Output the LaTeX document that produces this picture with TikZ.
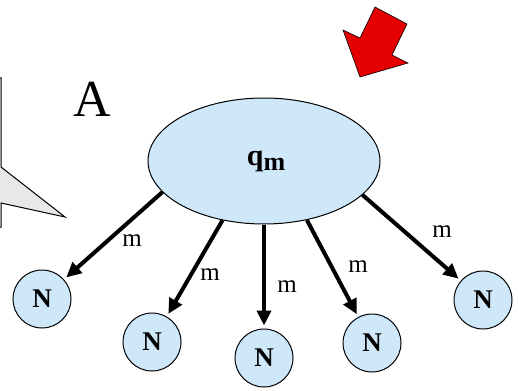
\documentclass[tikz,border=0pt]{standalone}
\usepackage{fontspec}
\setmainfont{Liberation Serif}
\usetikzlibrary{shapes.geometric,arrows.meta}
\definecolor{nodeblue}{RGB}{206,232,250}
\definecolor{callgrey}{RGB}{232,232,232}
\definecolor{arrowred}{RGB}{228,0,0}
\begin{document}
\begin{tikzpicture}[x=1pt,y=-1pt,
  nnode/.style={circle,draw=black,line width=1pt,fill=nodeblue,minimum size=58pt,inner sep=0pt,font=\fontsize{27}{27}\selectfont\bfseries},
  link/.style={line width=4pt,-{Triangle[length=15pt,width=14pt]},shorten >=3pt},
  mlabel/.style={font=\fontsize{25}{25}\selectfont,inner sep=0pt}]
\useasboundingbox (0,0) rectangle (518,390);
\begin{scope}
\clip (0,0) rectangle (518,390);
% callout
\draw[fill=callgrey,line width=1pt] (-5,78) -- (1,78) -- (1,167) -- (65,217) -- (1,203) -- (1,227) -- (-5,227);
\end{scope}
% red arrow
\draw[fill=arrowred,line width=0.6pt,line join=miter] (343,30) -- (360,38) -- (375,7) -- (407,24) -- (392,55) -- (408,63) -- (360,77) -- cycle;
% label A
\node[font=\fontsize{52}{52}\selectfont,inner sep=0pt] (A) at (92,99) {A};
% main ellipse
\node[ellipse,draw=black,line width=1pt,fill=nodeblue,minimum width=232pt,minimum height=126pt,inner sep=0pt] (q) at (264,161) {};
\node[inner sep=0pt,font=\fontsize{30}{30}\selectfont\bfseries] (qm) at (266,161) {q\raisebox{-5pt}{\fontsize{26}{26}\selectfont m}};
% N nodes
\node[nnode] (n1) at (42,299) {N};
\node[nnode] (n2) at (152,342) {N};
\node[nnode] (n3) at (264,358) {N};
\node[nnode] (n4) at (372,343) {N};
\node[nnode] (n5) at (483,300) {N};
% arrows
\draw[link] (q.197.6) -- (n1);
\draw[link] (q.235.5) -- (n2);
\draw[link] (q.270) -- (n3);
\draw[link] (q.306) -- (n4);
\draw[link] (q.341.7) -- (n5);
% m labels
\node[mlabel] (m1) at (132,241) {m};
\node[mlabel] (m2) at (210,275) {m};
\node[mlabel] (m3) at (287,287) {m};
\node[mlabel] (m4) at (358,267) {m};
\node[mlabel] (m5) at (442,232) {m};
\end{tikzpicture}
\end{document}
